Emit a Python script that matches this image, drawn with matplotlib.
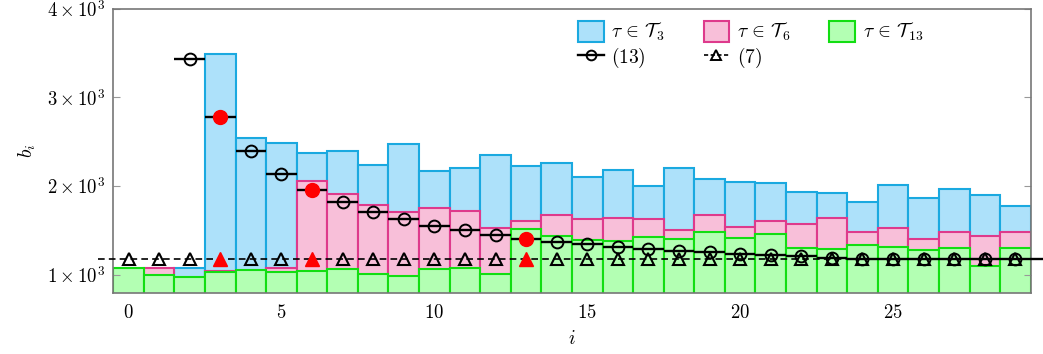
import numpy as np
import matplotlib.pyplot as plt
from matplotlib.lines import Line2D
from matplotlib.patches import Patch

plt.rcParams['mathtext.fontset'] = 'cm'
plt.rcParams['font.family'] = 'serif'
plt.rcParams['font.serif'] = ['DejaVu Serif']

# dados
idx = np.arange(30)
b_t3 = [np.nan, np.nan, 1072, 3487, 2544, 2484, 2375, 2394, 2236, 2473,
        2165, 2199, 2349, 2228, 2262, 2104, 2183, 2000, 2206, 2078,
        2045, 2035, 1928, 1924, 1816, 2007, 1864, 1969, 1898, 1778]
b_t6 = [np.nan, 1079, np.nan, 1045, np.nan, 1079, 2056, 1913, 1782, 1707,
        1748, 1721, 1526, 1609, 1676, 1631, 1639, 1631, 1500, 1676,
        1541, 1607, 1566, 1636, 1478, 1530, 1402, 1481, 1440, 1478]
b_t13 = [1072, 1000, 977, 1034, 1056, 1034, 1045, 1064, 1008, 989,
         1064, 1075, 1010, 1512, 1440, 1391, 1383, 1425, 1399, 1478,
         1410, 1455, 1297, 1293, 1338, 1316, 1278, 1304, 1101, 1297]

idx13 = np.arange(2, 30)
b_eq13 = [3431, 2781, 2394, 2138, 1951, 1816, 1710, 1624, 1552, 1504,
          1447, 1406, 1372, 1342, 1316, 1293, 1270, 1252, 1233, 1218,
          1208, 1188, 1178, 1175, 1174, 1173, 1172, 1172]
b_eq7 = 1176
destaque = [3, 6, 13]

cores = {
    't3': ('#ADE1FA', '#1AA9E0'),
    't6': ('#F8BFD9', '#DE3A8C'),
    't13': ('#B3FFB3', '#12DE12'),
}

fig = plt.figure(figsize=(10.43, 3.54), dpi=100)
ax = fig.add_axes([0.1086, 0.1732, 0.8796, 0.8025])

for nome, vals in [('t3', b_t3), ('t6', b_t6), ('t13', b_t13)]:
    fc, ec = cores[nome]
    ax.bar(idx, vals, width=1.0, color=fc, edgecolor=ec, linewidth=1.5, zorder=1)

# (7): linha tracejada constante
ax.plot([-1.0, 30.0], [b_eq7, b_eq7], color='black', ls=(0, (4, 2.5)), lw=1.2,
        clip_on=False, zorder=3)
tri = [i for i in idx if i not in destaque]
ax.plot(tri, [b_eq7] * len(tri), ls='none', marker='^', ms=8.5, mfc='none',
        mec='black', mew=1.5, zorder=4)
ax.plot(destaque, [b_eq7] * len(destaque), ls='none', marker='^', ms=10,
        color='red', zorder=5)

# (13): degraus horizontais
xmax = idx13 + 0.5
xmax[-1] = idx13[-1] + 1.0
ax.hlines(b_eq13, idx13 - 0.5, xmax, colors='black', lw=1.7, zorder=3, clip_on=False)
circ = [(i, v) for i, v in zip(idx13, b_eq13) if i not in destaque]
ax.plot([c[0] for c in circ], [c[1] for c in circ], ls='none', marker='o', ms=8.5,
        mfc='none', mec='black', mew=1.4, zorder=4)
red = [(i, v) for i, v in zip(idx13, b_eq13) if i in destaque]
ax.plot([c[0] for c in red], [c[1] for c in red], ls='none', marker='o', ms=10,
        color='red', zorder=5)

ax.set_xlim(-0.5, 29.5)
ax.set_ylim(797, 4000)
ax.set_xticks([0, 5, 10, 15, 20, 25])
ax.set_xticklabels(['$%d$' % t for t in [0, 5, 10, 15, 20, 25]], fontsize=13.5)
ax.set_yticks([1000, 2000, 3000, 4000])
ax.set_yticklabels([r'$%d\times10^3$' % t for t in [1, 2, 3, 4]], fontsize=13.5)
ax.tick_params(axis='y', direction='in', length=5, color='#999999', right=True, pad=6)
ax.tick_params(axis='x', length=0, pad=8)
for s in ax.spines.values():
    s.set_color('#777777')
    s.set_linewidth(1.2)

ax.set_xlabel('$i$', fontsize=14, labelpad=6)
ax.set_ylabel('$b_i$', fontsize=14, labelpad=6)

handles = [
    Patch(facecolor=cores['t3'][0], edgecolor=cores['t3'][1], lw=1.5),
    Line2D([], [], color='black', marker='o', mfc='none', mew=1.4, ms=7, lw=1.7),
    Patch(facecolor=cores['t6'][0], edgecolor=cores['t6'][1], lw=1.5),
    Line2D([], [], color='black', ls=(0, (2.5, 1.5)), marker='^', mfc='none', mew=1.4, ms=7, lw=1.2),
    Patch(facecolor=cores['t13'][0], edgecolor=cores['t13'][1], lw=1.5),
]
labels = [r'$\tau \,\in\, \mathcal{T}_3$', '$(13)$', r'$\tau \,\in\, \mathcal{T}_6$', '$(7)$',
          r'$\tau \,\in\, \mathcal{T}_{13}$']
ax.legend(handles, labels, ncol=3, loc='upper left', bbox_to_anchor=(0.492, 1.005),
          frameon=False, fontsize=14, handlelength=1.3, handleheight=1.3,
          handletextpad=0.4, columnspacing=2.0, labelspacing=0.15, borderaxespad=0.3)

fig.savefig('out.png', dpi=100)
